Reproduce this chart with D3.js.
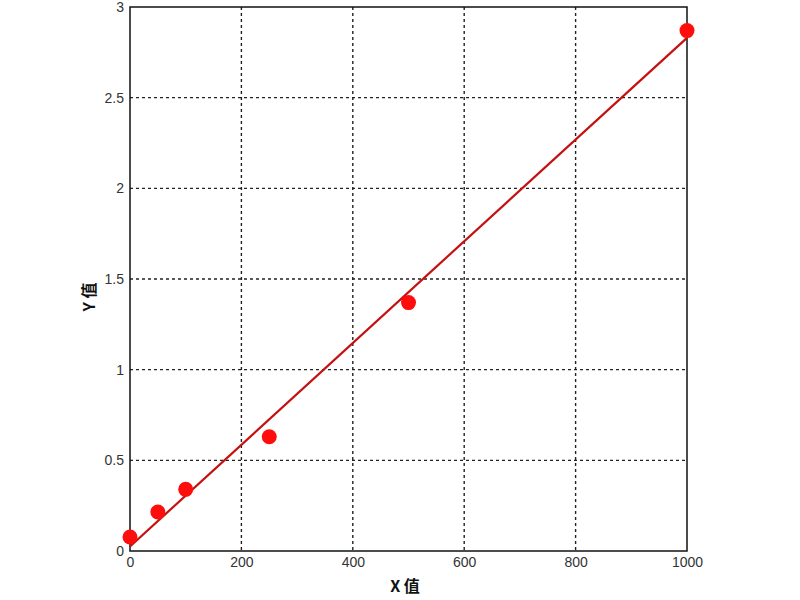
<!DOCTYPE html>
<html><head><meta charset="utf-8">
<script src="https://cdn.jsdelivr.net/npm/d3@7"></script>
<style>body{margin:0;background:#fff;} svg{display:block;}</style>
</head><body>
<svg id="c" width="800" height="600"></svg>
<script>
const xValues = [0, 50, 100, 250, 500, 1000];
const yValues = [0.077, 0.215, 0.34, 0.63, 1.37, 2.87];
const fitX = [0, 1000];
const fitY = [0.025, 2.83];
const xTicks = [0, 200, 400, 600, 800, 1000];
const yTicks = [0, 0.5, 1, 1.5, 2, 2.5, 3];
const xLabel = "X 值";
const yLabel = "Y 值";

const svg = d3.select("#c");
const L = 130, R = 687, T = 7, B = 551;
const x = d3.scaleLinear().domain([0, 1000]).range([L, R]);
const y = d3.scaleLinear().domain([0, 3]).range([B, T]);

// grid
const g = svg.append("g");
g.selectAll(".gx").data(xTicks.slice(1, -1)).join("line")
  .attr("x1", d => x(d)).attr("x2", d => x(d)).attr("y1", T).attr("y2", B)
  .attr("stroke", "#222").attr("stroke-width", 1.4).attr("stroke-dasharray", "3,3");
g.selectAll(".gy").data(yTicks.slice(1, -1)).join("line")
  .attr("y1", d => y(d)).attr("y2", d => y(d)).attr("x1", L).attr("x2", R)
  .attr("stroke", "#222").attr("stroke-width", 1.4).attr("stroke-dasharray", "3,3");

// axes (labels only)
const xa = svg.append("g").attr("transform", `translate(0,${B})`)
  .call(d3.axisBottom(x).tickValues(xTicks).tickSize(0).tickPadding(6).tickFormat(d3.format("d")));
const ya = svg.append("g").attr("transform", `translate(${L},0)`)
  .call(d3.axisLeft(y).tickValues(yTicks).tickSize(0).tickPadding(6).tickFormat(d => String(d)));
[xa, ya].forEach(a => {
  a.select(".domain").remove();
  a.selectAll("text").attr("font-family", "Arial, Liberation Sans, sans-serif")
    .attr("font-size", 14).attr("fill", "#333");
});

// frame
svg.append("rect").attr("x", L).attr("y", T).attr("width", R - L).attr("height", B - T)
  .attr("fill", "none").attr("stroke", "#111").attr("stroke-width", 1.5);

// fit line
svg.append("line")
  .attr("x1", x(fitX[0])).attr("y1", y(fitY[0]))
  .attr("x2", x(fitX[1])).attr("y2", y(fitY[1]))
  .attr("stroke", "#c41010").attr("stroke-width", 2.2);

// points
svg.selectAll(".pt").data(xValues.map((v, i) => [v, yValues[i]])).join("circle")
  .attr("cx", d => x(d[0])).attr("cy", d => y(d[1])).attr("r", 7.5)
  .attr("fill", "#ff0d0d");

// axis titles
svg.append("text").attr("x", 405).attr("y", 592).attr("text-anchor", "middle")
  .attr("font-family", "Noto Sans CJK SC, sans-serif").attr("font-weight", "bold")
  .attr("font-size", 16).attr("fill", "#111").text(xLabel);
svg.append("text").attr("transform", "translate(95,297) rotate(-90)").attr("text-anchor", "middle")
  .attr("font-family", "Noto Sans CJK SC, sans-serif").attr("font-weight", "bold")
  .attr("font-size", 16).attr("fill", "#111").text(yLabel);
</script>
</body></html>
